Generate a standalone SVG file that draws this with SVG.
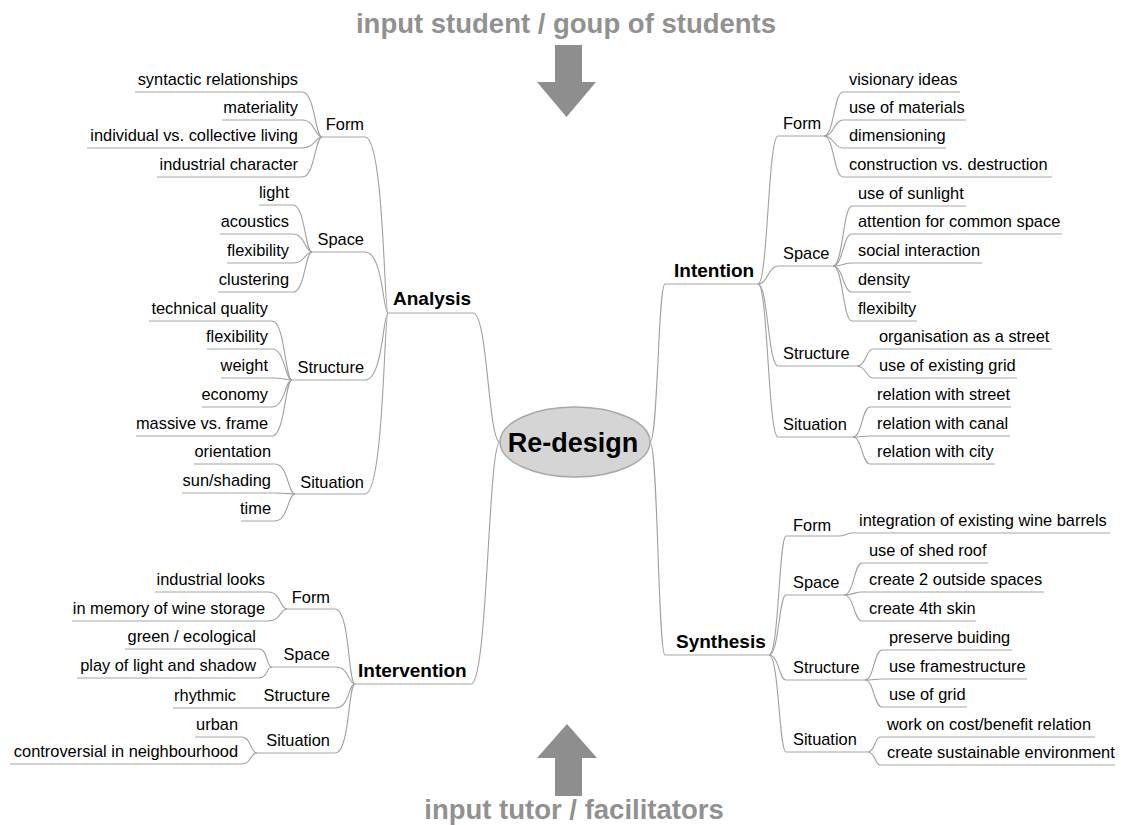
<svg xmlns="http://www.w3.org/2000/svg" width="1121" height="825" viewBox="0 0 1121 825">
<style>
.t{font-family:"Liberation Sans",Arial,sans-serif;font-size:16.4px;fill:#000}
.e{text-anchor:end}
.m{font-family:"Liberation Sans",Arial,sans-serif;font-size:19px;font-weight:bold;fill:#000}
.r{font-family:"Liberation Sans",Arial,sans-serif;font-size:27px;font-weight:bold;fill:#000;text-anchor:middle}
.in{font-family:"Liberation Sans",Arial,sans-serif;font-size:27.5px;font-weight:bold;fill:#919191;text-anchor:middle}
.u{fill:none;stroke:#a6a6a6;stroke-width:1.1}
.c{fill:none;stroke:#a0a0a0;stroke-width:1.1}
.ar{fill:#8e8e8e}
</style>
<rect width="1121" height="825" fill="#fff"/>
<g id="input-top"><text class="in" x="566" y="33">input student / goup of students</text><polygon class="ar" points="555,45 582,45 582,82 596,82 566.5,117 537,82 555,82"/></g>
<g id="input-bottom"><text class="in" x="574" y="819">input tutor / facilitators</text><polygon class="ar" points="567,724 597,758 582,758 582,796 555,796 555,758 537,758"/></g>
<g id="connectors">
<path class="c" d="M500 442 C488 442 488 313 473 313"/>
<path class="c" d="M500 442 C488 442 488 684 471 684"/>
<path class="c" d="M650 442 C658 442 658 284 665 284"/>
<path class="c" d="M650 442 C658 442 658 655 665 655"/>
<path class="c" d="M365 137 C384 137 384 313 388 313"/>
<path class="c" d="M365 252 C383 252 383 313 388 313"/>
<path class="c" d="M365 380 C383 380 383 313 388 313"/>
<path class="c" d="M365 494 C384 494 384 313 388 313"/>
<path class="c" d="M302 92 C315 92 315 137 322 137"/>
<path class="c" d="M302 120 C315 120 315 137 322 137"/>
<path class="c" d="M302 148 C315 148 315 137 322 137"/>
<path class="c" d="M302 177 C315 177 315 137 322 137"/>
<path class="c" d="M293 205 C305 205 305 252 312 252"/>
<path class="c" d="M293 234 C305 234 305 252 312 252"/>
<path class="c" d="M293 263 C305 263 305 252 312 252"/>
<path class="c" d="M293 292 C305 292 305 252 312 252"/>
<path class="c" d="M272 321 C285 321 285 380 292 380"/>
<path class="c" d="M272 349 C285 349 285 380 292 380"/>
<path class="c" d="M272 378 C285 378 285 380 292 380"/>
<path class="c" d="M272 407 C285 407 285 380 292 380"/>
<path class="c" d="M272 436 C285 436 285 380 292 380"/>
<path class="c" d="M275 464 C288 464 288 494 295 494"/>
<path class="c" d="M275 493 C288 493 288 494 295 494"/>
<path class="c" d="M275 521 C288 521 288 494 295 494"/>
<path class="c" d="M335 609 C350 609 348 684 355 684"/>
<path class="c" d="M335 667 C350 667 348 684 355 684"/>
<path class="c" d="M335 708 C350 708 348 684 355 684"/>
<path class="c" d="M335 753 C350 753 348 684 355 684"/>
<path class="c" d="M268 592 C281 592 280 609 287 609"/>
<path class="c" d="M268 621 C281 621 280 609 287 609"/>
<path class="c" d="M259 649 C268 649 266 667 272 667"/>
<path class="c" d="M259 678 C268 678 266 667 272 667"/>
<path class="c" d="M241 737 C252 737 250 753 257 753"/>
<path class="c" d="M241 764 C252 764 250 753 257 753"/>
<path class="c" d="M758 284 C768 284 768 136 778 136"/>
<path class="c" d="M758 284 C768 284 768 266 778 266"/>
<path class="c" d="M758 284 C768 284 768 366 778 366"/>
<path class="c" d="M758 284 C768 284 768 437 778 437"/>
<path class="c" d="M824 136 C834 136 834 92 843 92"/>
<path class="c" d="M824 136 C834 136 834 120 843 120"/>
<path class="c" d="M824 136 C834 136 834 148 843 148"/>
<path class="c" d="M824 136 C834 136 834 177 843 177"/>
<path class="c" d="M833 266 C843 266 843 206 852 206"/>
<path class="c" d="M833 266 C843 266 843 234 852 234"/>
<path class="c" d="M833 266 C843 266 843 263 852 263"/>
<path class="c" d="M833 266 C843 266 843 292 852 292"/>
<path class="c" d="M833 266 C843 266 843 321 852 321"/>
<path class="c" d="M857 366 C866 366 866 349 873 349"/>
<path class="c" d="M857 366 C866 366 866 378 873 378"/>
<path class="c" d="M853 437 C862 437 862 407 870 407"/>
<path class="c" d="M853 437 C862 437 862 436 870 436"/>
<path class="c" d="M853 437 C862 437 862 464 870 464"/>
<path class="c" d="M769 655 C779 655 779 536 786 536"/>
<path class="c" d="M769 655 C779 655 779 595 786 595"/>
<path class="c" d="M769 655 C779 655 779 680 786 680"/>
<path class="c" d="M769 655 C779 655 779 752 786 752"/>
<path class="c" d="M838 536 C846 536 846 533 853 533"/>
<path class="c" d="M844 595 C854 595 854 563 862 563"/>
<path class="c" d="M844 595 C854 595 854 592 862 592"/>
<path class="c" d="M844 595 C854 595 854 621 862 621"/>
<path class="c" d="M865 680 C874 680 874 650 882 650"/>
<path class="c" d="M865 680 C874 680 874 679 882 679"/>
<path class="c" d="M865 680 C874 680 874 707 882 707"/>
<path class="c" d="M868 752 C875 752 875 737 880 737"/>
<path class="c" d="M868 752 C875 752 875 765 880 765"/>
</g>
<g id="root"><ellipse cx="575" cy="442" rx="75" ry="35" fill="#d5d5d5" stroke="#a9a9a9" stroke-width="1.5"/><text class="r" x="573" y="452">Re-design</text></g>
<g id="analysis"><text class="m" x="393" y="305">Analysis</text><path class="u" d="M388 313 H473"/></g>
<g id="intervention"><text class="m" x="358" y="677">Intervention</text><path class="u" d="M355 684 H471"/></g>
<g id="intention"><text class="m" x="674" y="277">Intention</text><path class="u" d="M665 284 H758"/></g>
<g id="synthesis"><text class="m" x="676" y="648">Synthesis</text><path class="u" d="M665 655 H769"/></g>
<g id="a-form"><text class="t e" x="364" y="130">Form</text><path class="u" d="M322 137 H365"/></g>
<g id="a-space"><text class="t e" x="364" y="245">Space</text><path class="u" d="M312 252 H365"/></g>
<g id="a-structure"><text class="t e" x="364" y="373">Structure</text><path class="u" d="M292 380 H365"/></g>
<g id="a-situation"><text class="t e" x="364" y="488">Situation</text><path class="u" d="M295 494 H365"/></g>
<g id="a-form-1"><text class="t e" x="298" y="85">syntactic relationships</text><path class="u" d="M135 92 H302"/></g>
<g id="a-form-2"><text class="t e" x="298" y="113">materiality</text><path class="u" d="M222 120 H302"/></g>
<g id="a-form-3"><text class="t e" x="298" y="141">individual vs. collective living</text><path class="u" d="M87 148 H302"/></g>
<g id="a-form-4"><text class="t e" x="298" y="170">industrial character</text><path class="u" d="M157 177 H302"/></g>
<g id="a-space-1"><text class="t e" x="289" y="198">light</text><path class="u" d="M259 205 H293"/></g>
<g id="a-space-2"><text class="t e" x="289" y="227">acoustics</text><path class="u" d="M220 234 H293"/></g>
<g id="a-space-3"><text class="t e" x="289" y="256">flexibility</text><path class="u" d="M227 263 H293"/></g>
<g id="a-space-4"><text class="t e" x="289" y="285">clustering</text><path class="u" d="M218 292 H293"/></g>
<g id="a-structure-1"><text class="t e" x="268" y="314">technical quality</text><path class="u" d="M149 321 H272"/></g>
<g id="a-structure-2"><text class="t e" x="268" y="342">flexibility</text><path class="u" d="M207 349 H272"/></g>
<g id="a-structure-3"><text class="t e" x="268" y="371">weight</text><path class="u" d="M221 378 H272"/></g>
<g id="a-structure-4"><text class="t e" x="268" y="400">economy</text><path class="u" d="M202 407 H272"/></g>
<g id="a-structure-5"><text class="t e" x="268" y="429">massive vs. frame</text><path class="u" d="M136 436 H272"/></g>
<g id="a-situation-1"><text class="t e" x="271" y="457">orientation</text><path class="u" d="M194 464 H275"/></g>
<g id="a-situation-2"><text class="t e" x="271" y="486">sun/shading</text><path class="u" d="M182 493 H275"/></g>
<g id="a-situation-3"><text class="t e" x="271" y="514">time</text><path class="u" d="M241 521 H275"/></g>
<g id="v-form"><text class="t e" x="330" y="603">Form</text><path class="u" d="M287 609 H335"/></g>
<g id="v-space"><text class="t e" x="330" y="660">Space</text><path class="u" d="M272 667 H335"/></g>
<g id="v-structure"><text class="t e" x="330" y="701">Structure</text><path class="u" d="M250 708 H335"/></g>
<g id="v-situation"><text class="t e" x="330" y="746">Situation</text><path class="u" d="M257 753 H335"/></g>
<g id="v-form-1"><text class="t e" x="265" y="585">industrial looks</text><path class="u" d="M155 592 H268"/></g>
<g id="v-form-2"><text class="t e" x="265" y="614">in memory of wine storage</text><path class="u" d="M72 621 H268"/></g>
<g id="v-space-1"><text class="t e" x="256" y="642">green / ecological</text><path class="u" d="M125 649 H259"/></g>
<g id="v-space-2"><text class="t e" x="256" y="671">play of light and shadow</text><path class="u" d="M77 678 H259"/></g>
<g id="v-structure-1"><text class="t e" x="236" y="701">rhythmic</text><path class="u" d="M173 708 H250"/></g>
<g id="v-situation-1"><text class="t e" x="238" y="730">urban</text><path class="u" d="M195 737 H241"/></g>
<g id="v-situation-2"><text class="t e" x="238" y="757">controversial in neighbourhood</text><path class="u" d="M10 764 H241"/></g>
<g id="i-form"><text class="t" x="783" y="129">Form</text><path class="u" d="M778 136 H824"/></g>
<g id="i-space"><text class="t" x="783" y="259">Space</text><path class="u" d="M778 266 H833"/></g>
<g id="i-structure"><text class="t" x="783" y="359">Structure</text><path class="u" d="M778 366 H857"/></g>
<g id="i-situation"><text class="t" x="783" y="430">Situation</text><path class="u" d="M778 437 H853"/></g>
<g id="i-form-1"><text class="t" x="849" y="85">visionary ideas</text><path class="u" d="M843 92 H960"/></g>
<g id="i-form-2"><text class="t" x="849" y="113">use of materials</text><path class="u" d="M843 120 H966"/></g>
<g id="i-form-3"><text class="t" x="849" y="141">dimensioning</text><path class="u" d="M843 148 H946"/></g>
<g id="i-form-4"><text class="t" x="849" y="170">construction vs. destruction</text><path class="u" d="M843 177 H1052"/></g>
<g id="i-space-1"><text class="t" x="858" y="199">use of sunlight</text><path class="u" d="M852 206 H966"/></g>
<g id="i-space-2"><text class="t" x="858" y="227">attention for common space</text><path class="u" d="M852 234 H1062"/></g>
<g id="i-space-3"><text class="t" x="858" y="256">social interaction</text><path class="u" d="M852 263 H982"/></g>
<g id="i-space-4"><text class="t" x="858" y="285">density</text><path class="u" d="M852 292 H911"/></g>
<g id="i-space-5"><text class="t" x="858" y="314">flexibilty</text><path class="u" d="M852 321 H917"/></g>
<g id="i-structure-1"><text class="t" x="879" y="342">organisation as a street</text><path class="u" d="M873 349 H1052"/></g>
<g id="i-structure-2"><text class="t" x="879" y="371">use of existing grid</text><path class="u" d="M873 378 H1017"/></g>
<g id="i-situation-1"><text class="t" x="877" y="400">relation with street</text><path class="u" d="M870 407 H1011"/></g>
<g id="i-situation-2"><text class="t" x="877" y="429">relation with canal</text><path class="u" d="M870 436 H1010"/></g>
<g id="i-situation-3"><text class="t" x="877" y="457">relation with city</text><path class="u" d="M870 464 H995"/></g>
<g id="s-form"><text class="t" x="793" y="531">Form</text><path class="u" d="M786 536 H838"/></g>
<g id="s-space"><text class="t" x="793" y="588">Space</text><path class="u" d="M786 595 H844"/></g>
<g id="s-structure"><text class="t" x="793" y="673">Structure</text><path class="u" d="M786 680 H865"/></g>
<g id="s-situation"><text class="t" x="793" y="745">Situation</text><path class="u" d="M786 752 H868"/></g>
<g id="s-form-1"><text class="t" x="859" y="526">integration of existing wine barrels</text><path class="u" d="M853 533 H1110"/></g>
<g id="s-space-1"><text class="t" x="869" y="556">use of shed roof</text><path class="u" d="M862 563 H988"/></g>
<g id="s-space-2"><text class="t" x="869" y="585">create 2 outside spaces</text><path class="u" d="M862 592 H1044"/></g>
<g id="s-space-3"><text class="t" x="869" y="614">create 4th skin</text><path class="u" d="M862 621 H976"/></g>
<g id="s-structure-1"><text class="t" x="889" y="643">preserve buiding</text><path class="u" d="M882 650 H1012"/></g>
<g id="s-structure-2"><text class="t" x="889" y="672">use framestructure</text><path class="u" d="M882 679 H1027"/></g>
<g id="s-structure-3"><text class="t" x="889" y="700">use of grid</text><path class="u" d="M882 707 H967"/></g>
<g id="s-situation-1"><text class="t" x="887" y="730">work on cost/benefit relation</text><path class="u" d="M880 737 H1095"/></g>
<g id="s-situation-2"><text class="t" x="887" y="758">create sustainable environment</text><path class="u" d="M880 765 H1115"/></g>
</svg>
